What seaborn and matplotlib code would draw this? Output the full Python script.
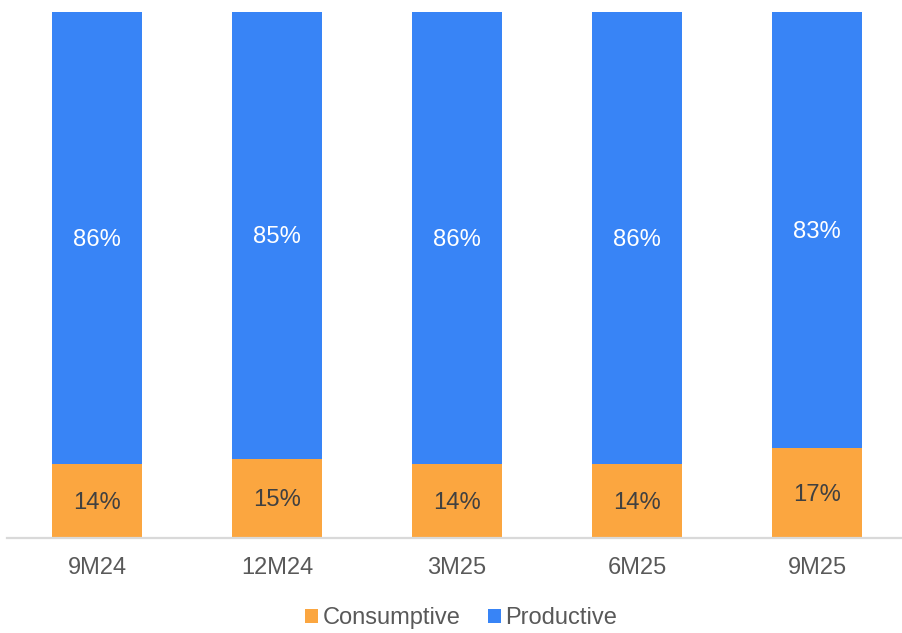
import matplotlib
matplotlib.use("Agg")
import matplotlib.pyplot as plt
from matplotlib.patches import Patch
import seaborn as sns
import pandas as pd

periods = ["9M24", "12M24", "3M25", "6M25", "9M25"]
consumptive = [14, 15, 14, 14, 17]
productive = [86, 85, 86, 86, 83]

ORANGE = "#FBA640"
BLUE = "#3884F6"
GREY_TEXT = "#595959"

sns.set_theme(style="white")
plt.rcParams["font.family"] = ["Liberation Sans", "DejaVu Sans"]

df = pd.DataFrame({
    "period": periods,
    "consumptive": consumptive,
    "productive": productive,
})
df["stack_top"] = df["consumptive"] + df["productive"]

W, H = 902, 633
fig = plt.figure(figsize=(W / 100, H / 100), dpi=100)
ax = fig.add_axes([7 / W, (H - 537.5) / H, 900 / W, (537.5 - 12) / H])

# Stacked bars: full stack in blue, consumptive share drawn over its base
sns.barplot(data=df, x="period", y="stack_top", color=BLUE, width=0.5,
            saturation=1, linewidth=0, ax=ax)
sns.barplot(data=df, x="period", y="consumptive", color=ORANGE, width=0.5,
            saturation=1, linewidth=0, ax=ax)

blue_bars = ax.containers[0]
orange_bars = ax.containers[1]

# Center labels within each segment
for rect, val, base in zip(blue_bars, df["productive"], df["consumptive"]):
    cx = rect.get_x() + rect.get_width() / 2
    ax.annotate(f"{val}%", (cx, base + val / 2), xytext=(0, -2),
                textcoords="offset pixels", ha="center", va="center",
                color="white", fontsize=17.2)
for rect, val in zip(orange_bars, df["consumptive"]):
    cx = rect.get_x() + rect.get_width() / 2
    ax.annotate(f"{val}%", (cx, val / 2), xytext=(0, -2),
                textcoords="offset pixels", ha="center", va="center",
                color="#404040", fontsize=17.2)

ax.set_xlim(-0.5, 4.5)
ax.set_ylim(0, 100)
ax.set_xlabel("")
ax.set_ylabel("")
ax.set_yticks([])
ax.tick_params(axis="x", length=0, pad=14, labelsize=17, labelcolor=GREY_TEXT)
for side in ["top", "right", "left"]:
    ax.spines[side].set_visible(False)
ax.spines["bottom"].set_color("#D9D9D9")
ax.spines["bottom"].set_linewidth(1.6)

handles = [Patch(facecolor=ORANGE, edgecolor="none", label="Consumptive"),
           Patch(facecolor=BLUE, edgecolor="none", label="Productive")]
fig.legend(handles=handles, loc="center", bbox_to_anchor=(461 / W, 1 - 618 / H),
           ncol=2, frameon=False, fontsize=17, labelcolor=GREY_TEXT,
           handlelength=0.55, handleheight=0.55, handletextpad=0.2,
           columnspacing=1.15)

fig.savefig("out.png", dpi=100)
